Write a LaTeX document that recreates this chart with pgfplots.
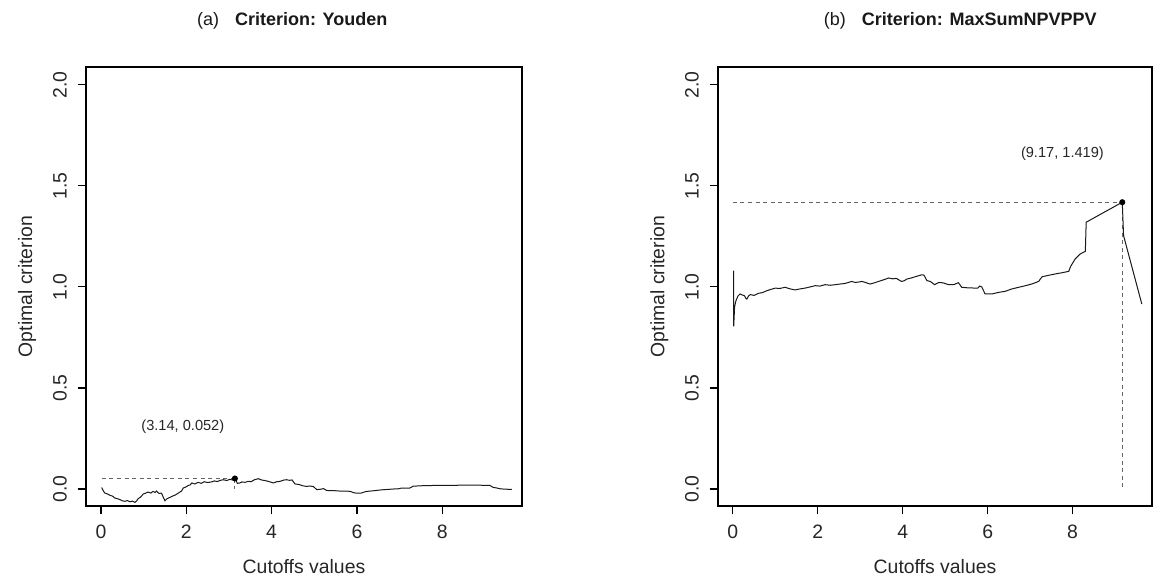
\documentclass[border=0pt]{standalone}
\usepackage{fontspec}
\setmainfont{Liberation Sans}
\usepackage{pgfplots}
\pgfplotsset{compat=1.18}

\tikzset{note/.style={font=\fontsize{7.3}{9}\selectfont, text=black!85}}
\pgfplotsset{
  rpanel/.style={
    scale only axis,
    anchor=south west,
    xmin=-0.35, xmax=9.87,
    ymin=-0.084, ymax=2.088,
    xtick={0,2,4,6,8},
    xticklabels={0,2,4,6,8},
    ytick={0,0.5,1,1.5,2},
    yticklabels={0.0,0.5,1.0,1.5,2.0},
    tick pos=left,
    tick align=outside,
    major tick length=4.2pt,
    axis line style={line width=0.6pt},
    every tick/.style={black, line width=0.6pt},
    tick label style={font=\fontsize{9.7}{11}\selectfont, text=black!85},
    xticklabel style={anchor=center, yshift=-8.6pt},
    yticklabel style={xshift=-8.8pt, rotate=90, anchor=center},
    label style={font=\fontsize{9.7}{11}\selectfont, text=black!85},
    xlabel={Cutoffs values},
    ylabel={Optimal criterion},
    xlabel style={at={(axis description cs:0.5,-0.138)}, anchor=center},
    ylabel style={at={(axis description cs:-0.135,0.5)}, anchor=center},
    title style={font=\fontsize{9}{10}\selectfont, text=black!90, anchor=west},
    curve/.style={black!90, line width=0.5pt, sharp plot, no marks},
    guide/.style={black!60, line width=0.5pt, dash pattern=on 2pt off 1.8pt, no marks},
    peak/.style={only marks, mark=*, mark size=1.3pt, black},
  }
}

\begin{document}
\begin{tikzpicture}
\useasboundingbox (0,0) rectangle (580pt,288pt);

% (a) Youden
\begin{axis}[rpanel, at={(43pt,35pt)}, width=218pt, height=219.5pt,
  title={(a)\hspace{8pt}\textbf{Criterion: Youden}},
  title style={at={(axis description cs:0.2385,1.077)}}]
\addplot[guide] coordinates {(0.02,0.052) (3.14,0.052)};
\addplot[guide] coordinates {(3.14,0.052) (3.14,0.0)};
\addplot[curve] coordinates {
(0.02,0.008) (0.03,0.001) (0.06,-0.01) (0.09,-0.02) (0.15,-0.024) (0.21,-0.031)
(0.27,-0.035) (0.33,-0.045) (0.39,-0.048) (0.45,-0.053) (0.5,-0.058) (0.56,-0.061)
(0.62,-0.057) (0.68,-0.063) (0.74,-0.06) (0.80,-0.066) (0.84,-0.058) (0.87,-0.048)
(0.93,-0.04) (0.99,-0.025) (1.05,-0.02) (1.11,-0.015) (1.17,-0.02) (1.22,-0.012)
(1.27,-0.017) (1.30,-0.01) (1.36,-0.022) (1.42,-0.02) (1.46,-0.04) (1.50,-0.058)
(1.55,-0.048) (1.62,-0.041) (1.68,-0.035) (1.74,-0.03) (1.80,-0.022) (1.85,-0.015)
(1.89,-0.01) (1.93,0.005) (1.99,0.01) (2.05,0.018) (2.09,0.02) (2.13,0.03)
(2.2,0.025) (2.28,0.033) (2.35,0.028) (2.42,0.036) (2.5,0.032) (2.59,0.035)
(2.66,0.04) (2.73,0.037) (2.8,0.043) (2.87,0.046) (2.95,0.042) (3.02,0.048)
(3.08,0.045) (3.14,0.052) (3.2,0.028) (3.26,0.03) (3.30,0.035) (3.38,0.033)
(3.45,0.038) (3.52,0.036) (3.6,0.046) (3.69,0.051) (3.76,0.045) (3.84,0.042)
(3.92,0.038) (4.0,0.033) (4.04,0.03) (4.12,0.036) (4.2,0.038) (4.28,0.044)
(4.35,0.046) (4.42,0.043) (4.48,0.045) (4.52,0.033) (4.55,0.025) (4.65,0.022)
(4.73,0.016) (4.82,0.013) (4.9,0.015) (4.98,0.012) (5.06,-0.003) (5.15,-0.001)
(5.22,0.002) (5.28,-0.006) (5.33,-0.008) (5.45,-0.008) (5.6,-0.01) (5.75,-0.01)
(5.85,-0.012) (5.92,-0.018) (5.97,-0.02) (6.1,-0.02) (6.2,-0.013) (6.27,-0.011)
(6.42,-0.008) (6.58,-0.004) (6.66,-0.003) (6.85,0.0) (6.97,0.001) (7.05,0.005)
(7.24,0.005) (7.32,0.014) (7.6,0.017) (8.0,0.018) (8.3,0.018) (8.4,0.019)
(8.8,0.019) (9.12,0.018) (9.16,0.012) (9.2,0.008) (9.28,0.005) (9.36,0.001)
(9.5,-0.001) (9.63,-0.002)
};
\addplot[peak] coordinates {(3.14,0.052)};
\node[note] at (axis cs:1.92,0.308) {(3.14, 0.052)};
\end{axis}

% (b) MaxSumNPVPPV
\begin{axis}[rpanel, at={(359pt,35pt)}, width=217pt, height=219.5pt,
  title={(b)\hspace{8pt}\textbf{Criterion: MaxSumNPVPPV}},
  title style={at={(axis description cs:0.2276,1.077)}}]
\addplot[guide] coordinates {(0.0,1.419) (9.17,1.419)};
\addplot[guide] coordinates {(9.17,1.419) (9.17,0.0)};
\addplot[curve] coordinates {
(0.015,1.08) (0.02,0.805) (0.04,0.90) (0.07,0.93) (0.12,0.955) (0.17,0.965)
(0.22,0.96) (0.27,0.957) (0.3,0.945) (0.33,0.94) (0.37,0.955) (0.41,0.962)
(0.5,0.958) (0.6,0.968) (0.7,0.972) (0.8,0.981) (0.9,0.988) (1.0,0.994)
(1.1,0.992) (1.23,0.998) (1.35,0.99) (1.47,0.985) (1.58,0.99) (1.7,0.994)
(1.82,1.0) (1.94,1.006) (2.05,1.004) (2.17,1.011) (2.3,1.008) (2.41,1.011)
(2.52,1.014) (2.64,1.017) (2.72,1.022) (2.8,1.027) (2.88,1.022) (2.96,1.024)
(3.04,1.027) (3.12,1.022) (3.23,1.014) (3.33,1.02) (3.43,1.027) (3.55,1.035)
(3.67,1.044) (3.76,1.04) (3.85,1.042) (3.97,1.027) (4.03,1.03) (4.1,1.039)
(4.2,1.044) (4.29,1.05) (4.37,1.055) (4.45,1.06) (4.5,1.058) (4.57,1.031)
(4.65,1.027) (4.75,1.011) (4.85,1.022) (4.95,1.02) (5.08,1.011) (5.2,1.011)
(5.31,1.021) (5.39,0.998) (5.55,0.995) (5.77,0.994) (5.81,1.004) (5.86,1.0)
(5.94,0.965) (6.1,0.965) (6.26,0.973) (6.41,0.978) (6.57,0.99) (6.65,0.994)
(6.77,1.0) (6.89,1.006) (7.05,1.015) (7.2,1.027) (7.28,1.05) (7.45,1.058)
(7.59,1.064) (7.75,1.07) (7.91,1.077) (7.95,1.10) (8.06,1.138) (8.18,1.163)
(8.30,1.176) (8.32,1.32) (9.17,1.419) (9.2,1.254) (9.63,0.915)
};
\addplot[peak] coordinates {(9.17,1.419)};
\node[note] at (axis cs:7.76,1.66) {(9.17, 1.419)};
\end{axis}
\end{tikzpicture}
\end{document}
